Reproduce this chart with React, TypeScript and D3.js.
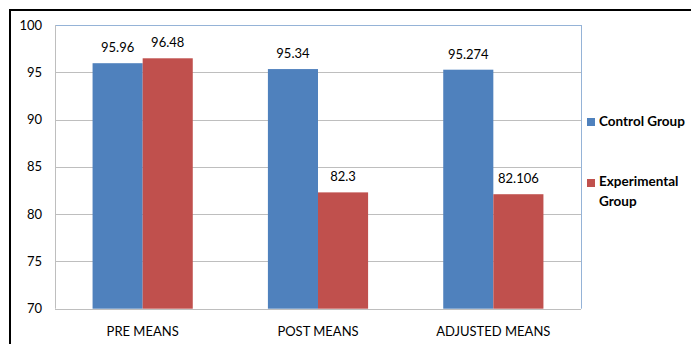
import React from "react";
import * as d3 from "d3";

const categories = ["PRE MEANS", "POST MEANS", "ADJUSTED MEANS"];
const seriesNames = ["Control Group", "Experimental Group"];
const controlValues = [95.96, 95.34, 95.274];
const experimentalValues = [96.48, 82.3, 82.106];
const controlLabels = ["95.96", "95.34", "95.274"];
const experimentalLabels = ["96.48", "82.3", "82.106"];
const yTicks = [70, 75, 80, 85, 90, 95, 100];

const colors = ["#4F81BD", "#C0504D"];
const font = "Lato, 'Open Sans', sans-serif";

export default function App() {
  const W = 691;
  const H = 344;
  const left = 55;
  const right = 581;
  const top = 25;
  const bottom = 308.7;

  // one band per category; bars fill 2 of 3.5 units (150% gap width)
  const x = d3.scaleBand<string>().domain(categories).range([left, right]).padding(0);
  const y = d3.scaleLinear().domain([70, 100]).range([bottom, top]);
  const groupW = (x.bandwidth() * 2) / 3.5;
  const inner = d3.scaleBand<number>().domain([0, 1]).range([0, groupW]);

  const series = [
    { values: controlValues, labels: controlLabels },
    { values: experimentalValues, labels: experimentalLabels },
  ];

  return (
    <svg
      width={W}
      height={H}
      style={{ position: "absolute", left: 0, top: 0, background: "#fff" }}
      fontFamily={font}
    >
      <rect x={0} y={0} width={W} height={H} fill="#fff" />
      {/* outer frame */}
      <rect x={10} y={10} width={W + 20} height={H + 40} fill="none" stroke="#000" strokeWidth={2} />

      {/* gridlines */}
      {yTicks.map((t) => (
        <line key={t} x1={left} x2={right} y1={Math.round(y(t)) + 0.5} y2={Math.round(y(t)) + 0.5} stroke="#BEBEBE" strokeWidth={1} />
      ))}
      {/* plot frame */}
      <line x1={left} x2={right} y1={top + 0.5} y2={top + 0.5} stroke="#95B3D7" />
      <line x1={right + 0.5} x2={right + 0.5} y1={top} y2={bottom} stroke="#95B3D7" />
      <line x1={left + 0.5} x2={left + 0.5} y1={top} y2={bottom} stroke="#BEBEBE" />
      <line x1={left} x2={right} y1={Math.round(bottom) + 0.5} y2={Math.round(bottom) + 0.5} stroke="#BEBEBE" />

      {/* bars */}
      {categories.map((c, i) => {
        const gx = (x(c) as number) + (x.bandwidth() - groupW) / 2;
        return (
          <g key={c}>
            {series.map((s, j) => {
              const bx = gx + (inner(j) as number);
              const by = y(s.values[i]);
              return (
                <g key={j}>
                  <rect x={bx} y={by} width={inner.bandwidth()} height={bottom - by} fill={colors[j]} />
                  <text
                    x={bx + inner.bandwidth() / 2}
                    y={by - 11}
                    textAnchor="middle"
                    fontSize={13}
                    fill="#000"
                  >
                    {s.labels[i]}
                  </text>
                </g>
              );
            })}
            <text x={(x(c) as number) + x.bandwidth() / 2} y={336} textAnchor="middle" fontSize={13} fill="#000">
              {c}
            </text>
          </g>
        );
      })}

      {/* y axis labels */}
      {yTicks.map((t) => (
        <text key={t} x={42} y={y(t)} dy="0.35em" textAnchor="end" fontSize={13} fill="#000">
          {t}
        </text>
      ))}

      {/* legend */}
      <rect x={587} y={118} width={8} height={8} fill={colors[0]} />
      <text x={599} y={126} fontSize={13.5} fontWeight="bold" fill="#000">{seriesNames[0]}</text>
      <rect x={587} y={179} width={8} height={8} fill={colors[1]} />
      <text x={599} y={186} fontSize={13.5} fontWeight="bold" fill="#000">Experimental</text>
      <text x={599} y={206} fontSize={13.5} fontWeight="bold" fill="#000">Group</text>
    </svg>
  );
}
